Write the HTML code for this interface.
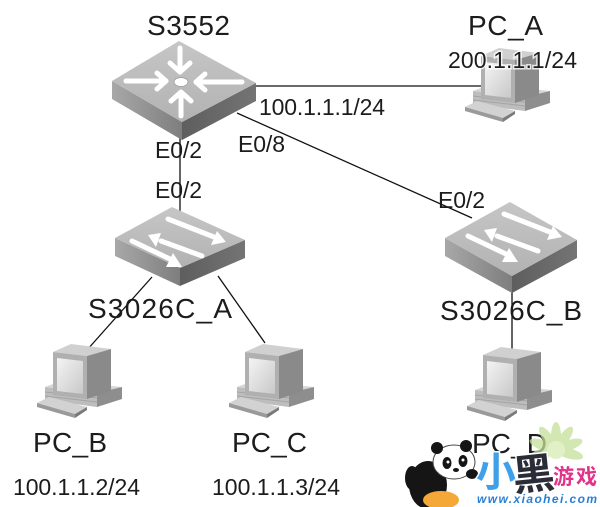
<!DOCTYPE html>
<html>
<head>
<meta charset="utf-8">
<style>
html,body{margin:0;padding:0;background:#fff;}
svg{display:block;}
.t{font-family:"Liberation Sans",Arial,sans-serif;fill:#1c1c1c;}
.cjk{font-family:"Liberation Sans","Noto Sans CJK SC",sans-serif;font-weight:bold;}
</style>
</head>
<body>
<svg width="600" height="507" viewBox="0 0 600 507" xmlns="http://www.w3.org/2000/svg">
<defs>
  <linearGradient id="scr" x1="0" y1="0" x2="1" y2="1">
    <stop offset="0" stop-color="#f4f4f4"/>
    <stop offset="1" stop-color="#c8c8c8"/>
  </linearGradient>
  <linearGradient id="lside" x1="0" y1="0" x2="1" y2="0">
    <stop offset="0" stop-color="#a8a8a8"/>
    <stop offset="1" stop-color="#7e7e7e"/>
  </linearGradient>
  <linearGradient id="rside" x1="0" y1="0" x2="1" y2="0">
    <stop offset="0" stop-color="#5e5e5e"/>
    <stop offset="1" stop-color="#747474"/>
  </linearGradient>
  <linearGradient id="topf" x1="0" y1="0" x2="0" y2="1">
    <stop offset="0" stop-color="#c6c6c6"/>
    <stop offset="1" stop-color="#b2b2b2"/>
  </linearGradient>
</defs>

<!-- connectors -->
<g stroke="#111" stroke-width="1.3" fill="none">
  <line x1="255" y1="86" x2="482" y2="86"/>
  <line x1="482" y1="76" x2="482" y2="86"/>
  <line x1="180" y1="122" x2="180" y2="215"/>
  <line x1="237" y1="113" x2="472" y2="218"/>
  <line x1="152" y1="277" x2="87" y2="350"/>
  <line x1="218" y1="276" x2="265" y2="343"/>
  <line x1="512" y1="290" x2="512" y2="356"/>
</g>

<!-- S3552 core switch -->
<g>
  <polygon points="112,81 182,122 182,140 112,99" fill="url(#lside)"/>
  <polygon points="182,122 256,83 256,101 182,140" fill="url(#rside)"/>
  <polygon points="179,41 256,83 182,122 112,81" fill="url(#topf)"/>
  <g stroke="#fff" stroke-width="5" fill="none" stroke-linecap="round" stroke-linejoin="round">
    <line x1="180" y1="48" x2="180" y2="71"/>
    <polyline points="170,63 180,72 190,63"/>
    <line x1="181" y1="116" x2="181" y2="93"/>
    <polyline points="171,101 181,92 191,101"/>
    <line x1="126" y1="81" x2="166" y2="81"/>
    <polyline points="157,73 166,81 157,89"/>
    <line x1="242" y1="82" x2="196" y2="82"/>
    <polyline points="205,74 196,82 205,90"/>
  </g>
  <ellipse cx="181" cy="82" rx="7" ry="4.5" fill="#fff" stroke="#999" stroke-width="0.8"/>
</g>

<!-- S3026C_A -->
<g>
  <polygon points="115,238 180,268 180,286 115,256" fill="url(#lside)"/>
  <polygon points="180,268 245,240 245,258 180,286" fill="url(#rside)"/>
  <polygon points="172,207 245,240 180,268 115,238" fill="url(#topf)"/>
  <g transform="translate(-336,5)">
    <g stroke="#fff" stroke-width="5" stroke-linecap="round">
      <line x1="504" y1="214" x2="550" y2="232"/>
      <line x1="497" y1="236" x2="538" y2="251"/>
      <line x1="468" y1="236" x2="506" y2="254"/>
    </g>
    <g fill="#fff">
      <polygon points="547,240 553,226 562,237"/>
      <polygon points="497,228 492,242 484,230"/>
      <polygon points="502,262 509,248 518,262"/>
    </g>
  </g>
</g>

<!-- S3026C_B -->
<g>
  <polygon points="445,238 512,276 512,293 445,256" fill="url(#lside)"/>
  <polygon points="512,276 577,240 577,258 512,293" fill="url(#rside)"/>
  <polygon points="510,202 577,240 512,276 445,238" fill="url(#topf)"/>
  <g stroke="#fff" stroke-width="5" stroke-linecap="round">
    <line x1="504" y1="214" x2="550" y2="232"/>
    <line x1="497" y1="236" x2="538" y2="251"/>
    <line x1="468" y1="236" x2="506" y2="254"/>
  </g>
  <g fill="#fff">
    <polygon points="547,240 553,226 562,237"/>
    <polygon points="497,228 492,242 484,230"/>
    <polygon points="502,262 509,248 518,262"/>
  </g>
</g>

<!-- PC icons -->
<g transform="translate(463,47)">
  <polygon points="10,44 26,38 87,44 62,50" fill="#d6d6d6"/>
  <polygon points="10,44 62,50 62,64 10,57" fill="#bdbdbd"/>
  <g stroke="#a4a4a4" stroke-width="1"><line x1="10" y1="49" x2="62" y2="55"/><line x1="10" y1="53" x2="62" y2="59"/></g>
  <polygon points="62,50 87,44 87,56 62,64" fill="#8e8e8e"/>
  <polygon points="18,9 36,1 76,6 52,13" fill="#d0d0d0"/>
  <polygon points="52,13 76,6 76,48 52,56" fill="#8a8a8a"/>
  <polygon points="18,9 52,13 52,56 18,52" fill="#b0b0b0"/>
  <polygon points="22,15 48,18 48,51 22,48" fill="url(#scr)"/>
  <polygon points="2,60 14,54 52,64 40,71" fill="#d2d2d2"/>
  <polygon points="2,60 40,71 40,75 2,64" fill="#9a9a9a"/>
  <polygon points="40,71 52,64 52,67 40,75" fill="#7a7a7a"/>
</g>
<g transform="translate(35,343)">
  <polygon points="10,44 26,38 87,44 62,50" fill="#d6d6d6"/>
  <polygon points="10,44 62,50 62,64 10,57" fill="#bdbdbd"/>
  <g stroke="#a4a4a4" stroke-width="1"><line x1="10" y1="49" x2="62" y2="55"/><line x1="10" y1="53" x2="62" y2="59"/></g>
  <polygon points="62,50 87,44 87,56 62,64" fill="#8e8e8e"/>
  <polygon points="18,9 36,1 76,6 52,13" fill="#d0d0d0"/>
  <polygon points="52,13 76,6 76,48 52,56" fill="#8a8a8a"/>
  <polygon points="18,9 52,13 52,56 18,52" fill="#b0b0b0"/>
  <polygon points="22,15 48,18 48,51 22,48" fill="url(#scr)"/>
  <polygon points="2,60 14,54 52,64 40,71" fill="#d2d2d2"/>
  <polygon points="2,60 40,71 40,75 2,64" fill="#9a9a9a"/>
  <polygon points="40,71 52,64 52,67 40,75" fill="#7a7a7a"/>
</g>
<g transform="translate(227,343)">
  <polygon points="10,44 26,38 87,44 62,50" fill="#d6d6d6"/>
  <polygon points="10,44 62,50 62,64 10,57" fill="#bdbdbd"/>
  <g stroke="#a4a4a4" stroke-width="1"><line x1="10" y1="49" x2="62" y2="55"/><line x1="10" y1="53" x2="62" y2="59"/></g>
  <polygon points="62,50 87,44 87,56 62,64" fill="#8e8e8e"/>
  <polygon points="18,9 36,1 76,6 52,13" fill="#d0d0d0"/>
  <polygon points="52,13 76,6 76,48 52,56" fill="#8a8a8a"/>
  <polygon points="18,9 52,13 52,56 18,52" fill="#b0b0b0"/>
  <polygon points="22,15 48,18 48,51 22,48" fill="url(#scr)"/>
  <polygon points="2,60 14,54 52,64 40,71" fill="#d2d2d2"/>
  <polygon points="2,60 40,71 40,75 2,64" fill="#9a9a9a"/>
  <polygon points="40,71 52,64 52,67 40,75" fill="#7a7a7a"/>
</g>
<g transform="translate(465,346)">
  <polygon points="10,44 26,38 87,44 62,50" fill="#d6d6d6"/>
  <polygon points="10,44 62,50 62,64 10,57" fill="#bdbdbd"/>
  <g stroke="#a4a4a4" stroke-width="1"><line x1="10" y1="49" x2="62" y2="55"/><line x1="10" y1="53" x2="62" y2="59"/></g>
  <polygon points="62,50 87,44 87,56 62,64" fill="#8e8e8e"/>
  <polygon points="18,9 36,1 76,6 52,13" fill="#d0d0d0"/>
  <polygon points="52,13 76,6 76,48 52,56" fill="#8a8a8a"/>
  <polygon points="18,9 52,13 52,56 18,52" fill="#b0b0b0"/>
  <polygon points="22,15 48,18 48,51 22,48" fill="url(#scr)"/>
  <polygon points="2,60 14,54 52,64 40,71" fill="#d2d2d2"/>
  <polygon points="2,60 40,71 40,75 2,64" fill="#9a9a9a"/>
  <polygon points="40,71 52,64 52,67 40,75" fill="#7a7a7a"/>
</g>

<!-- labels -->
<g class="t">
  <text x="147" y="35" font-size="28" textLength="83">S3552</text>
  <text x="468" y="35" font-size="28" textLength="75">PC_A</text>
  <text x="448" y="68" font-size="23" textLength="129" stroke="#fff" stroke-width="3" paint-order="stroke" stroke-opacity="0.8">200.1.1.1/24</text>
  <text x="259" y="115" font-size="23" textLength="126">100.1.1.1/24</text>
  <text x="155" y="158" font-size="23" textLength="47">E0/2</text>
  <text x="155" y="198" font-size="23" textLength="47">E0/2</text>
  <text x="238" y="152" font-size="23" textLength="47">E0/8</text>
  <text x="438" y="208" font-size="23" textLength="47">E0/2</text>
  <text x="88" y="318" font-size="28" textLength="144">S3026C_A</text>
  <text x="440" y="320" font-size="28" textLength="142">S3026C_B</text>
  <text x="33" y="452" font-size="28" textLength="74">PC_B</text>
  <text x="232" y="452" font-size="28" textLength="75">PC_C</text>
  <text x="472" y="453" font-size="28" textLength="75">PC_D</text>
  <text x="13" y="495" font-size="23" textLength="127">100.1.1.2/24</text>
  <text x="212" y="495" font-size="23" textLength="128">100.1.1.3/24</text>
</g>

<!-- watermark logo -->
<g>
  <g fill="#c4df98" opacity="0.75">
    <ellipse cx="556" cy="436" rx="5" ry="14"/>
    <ellipse cx="556" cy="436" rx="5" ry="14" transform="rotate(35 556 450)"/>
    <ellipse cx="556" cy="436" rx="5" ry="14" transform="rotate(70 556 450)"/>
    <ellipse cx="556" cy="436" rx="5" ry="14" transform="rotate(105 556 450)"/>
    <ellipse cx="556" cy="436" rx="5" ry="14" transform="rotate(-35 556 450)"/>
    <ellipse cx="556" cy="436" rx="5" ry="14" transform="rotate(-70 556 450)"/>
    <ellipse cx="556" cy="436" rx="5" ry="14" transform="rotate(-105 556 450)"/>
    <circle cx="556" cy="450" r="9" fill="#d9ebb6"/>
  </g>
  <!-- panda -->
  <ellipse cx="428" cy="485" rx="19" ry="24" fill="#151515"/>
  <ellipse cx="412" cy="478" rx="7" ry="12" fill="#151515"/>
  <ellipse cx="441" cy="500" rx="18" ry="9" fill="#f3a838"/>
  <ellipse cx="454" cy="462" rx="21" ry="17" fill="#fff" stroke="#444" stroke-width="1"/>
  <circle cx="437" cy="448" r="6" fill="#151515"/>
  <circle cx="466" cy="446" r="6" fill="#151515"/>
  <ellipse cx="447" cy="463" rx="4.5" ry="6" fill="#151515"/>
  <ellipse cx="463" cy="461" rx="4.5" ry="6" fill="#151515"/>
  <circle cx="448" cy="462" r="1.5" fill="#fff"/>
  <circle cx="463" cy="460" r="1.5" fill="#fff"/>
  <ellipse cx="456" cy="470" rx="3" ry="2" fill="#151515"/>
  <ellipse cx="472" cy="474" rx="6" ry="5" fill="#151515"/>
  <!-- text -->
  <text class="cjk" x="476" y="486" font-size="40" fill="#3f9fe8" stroke="#fff" stroke-width="3" paint-order="stroke">小</text>
  <text class="cjk" x="512" y="489" font-size="42" fill="#2a2d38" stroke="#fff" stroke-width="3" paint-order="stroke" transform="rotate(-6 532 470)">黑</text>
  <text class="cjk" x="553" y="484" font-size="21" textLength="44" fill="#e2338a" stroke="#fff" stroke-width="2.5" paint-order="stroke">游戏</text>
  <text x="477" y="503" font-family="Liberation Sans, Arial, sans-serif" font-size="12" font-weight="bold" font-style="italic" textLength="120" fill="#2a7fd4" stroke="#fff" stroke-width="2" paint-order="stroke">www.xiaohei.com</text>
</g>
</svg>
</body>
</html>
